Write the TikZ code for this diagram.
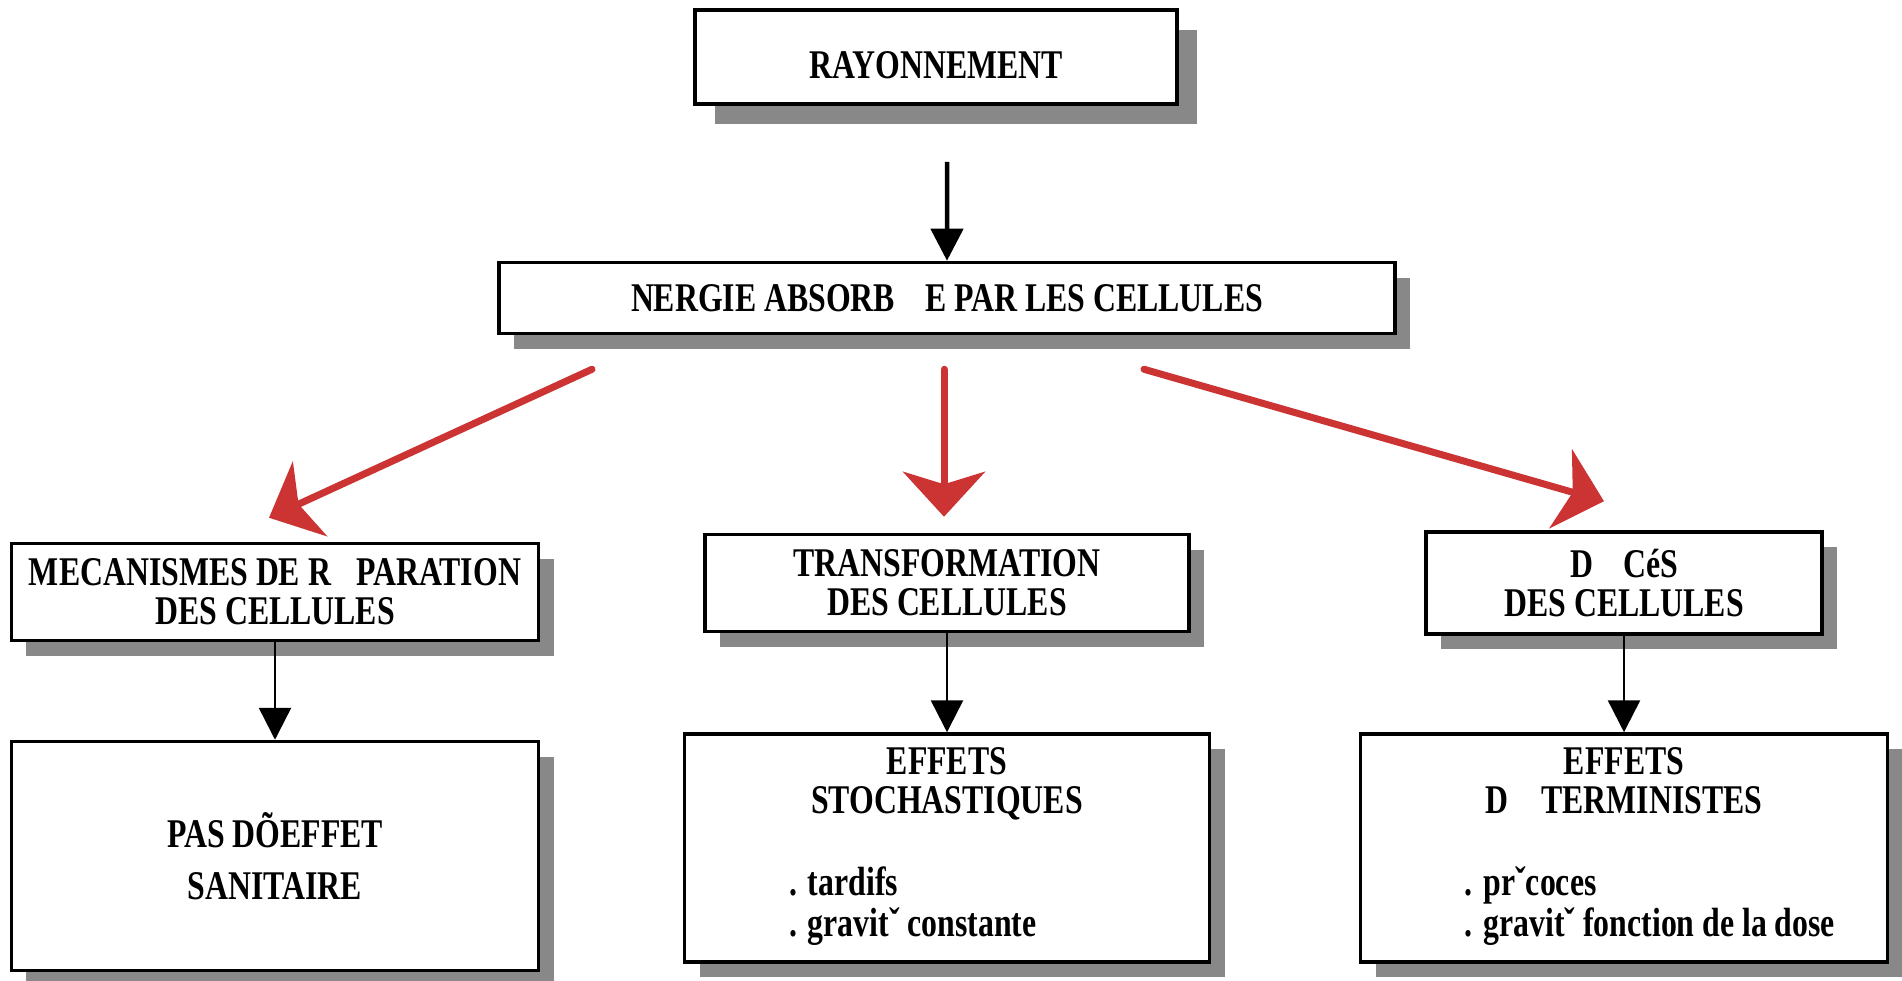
\documentclass[tikz,border=0pt]{standalone}
\usepackage{fontspec}
\setmainfont{Liberation Serif}[FakeStretch=0.78]
\usetikzlibrary{arrows.meta, shadows}

\definecolor{rougefleche}{RGB}{204,51,51}
\definecolor{grisombre}{RGB}{136,136,136}

\tikzset{
    boite/.style={draw, line width=1pt, fill=white, inner sep=0pt, align=center,
        font=\fontsize{11.6}{11.1}\selectfont\bfseries,
        drop shadow={shadow xshift=#1, shadow yshift=-#1, fill=grisombre, opacity=1}},
    boite/.default=0.15cm,
    flecherouge/.style={line width=0.07cm, line cap=round, draw=rougefleche,
        -{Stealth[length=0.45cm, width=0.82cm, inset=0.125cm, fill=rougefleche]}},
    flechenoire/.style={line width=0.025cm, -{Triangle[length=0.32cm, width=0.32cm]}}
}

\begin{document}
\begin{tikzpicture}
    \useasboundingbox (0,0) rectangle (19.02,9.80);

    \node[boite=0.2cm, minimum width=4.82cm, minimum height=0.94cm] (rayonnement) at (9.36, 9.23) {\raisebox{-0.21cm}[0pt][0pt]{RAYONNEMENT}};
    \node[boite, minimum width=8.96cm, minimum height=0.71cm] (energie) at (9.47, 6.82) {NERGIE ABSORB\hspace{0.3cm}E PAR LES CELLULES};

    \node[boite, minimum width=5.27cm, minimum height=0.97cm] (reparation) at (2.75, 3.88) {MECANISMES DE R\hspace{0.25cm}PARATION\\DES CELLULES};
    \node[boite, minimum width=4.84cm, minimum height=0.97cm] (transformation) at (9.47, 3.97) {TRANSFORMATION\\DES CELLULES};
    \node[boite, minimum width=3.96cm, minimum height=1.02cm] (deces) at (16.24, 3.97) {D\hspace{0.3cm}CéS\\DES CELLULES};

    \node[boite, minimum width=5.27cm, minimum height=2.29cm] (sanitaire) at (2.75, 1.24) {PAS DÕEFFET\\[0.13cm]SANITAIRE};
    \node[boite, minimum width=5.25cm, minimum height=2.28cm] (stochastiques) at (9.47, 1.32) {EFFETS\\STOCHASTIQUES\\[0.43cm]\begin{tabular}[t]{@{}l@{}}. tardifs\\. gravitˇ constante\end{tabular}\hspace*{0.68cm}};
    \node[boite, minimum width=5.27cm, minimum height=2.28cm] (deterministes) at (16.24, 1.32) {EFFETS\\D\hspace{0.33cm}TERMINISTES\\[0.43cm]\hspace*{0.52cm}\begin{tabular}[t]{@{}l@{}}. prˇcoces\\. gravitˇ fonction de la dose\end{tabular}};

    \coordinate (depart) at ([xshift=0.11cm, yshift=-0.56cm]rayonnement.south);
    \coordinate (depart gauche) at ([xshift=-3.55cm, yshift=-0.34cm]energie.south);
    \coordinate (depart milieu) at ([xshift=-0.03cm, yshift=-0.34cm]energie.south);
    \coordinate (depart droite) at ([xshift=1.97cm, yshift=-0.34cm]energie.south);

    \draw [flechenoire, line width=0.045cm] (depart) -- (energie);

    \draw [flecherouge] (depart gauche) -- ([xshift=-0.06cm, yshift=0.24cm]reparation.north);
    \draw [flecherouge] (depart milieu) -- ([xshift=-0.03cm, yshift=0.16cm]transformation.north);
    \draw [flecherouge] (depart droite) -- ([xshift=-0.2cm, yshift=0.29cm]deces.north);

    \draw [flechenoire] (reparation) -- (sanitaire);
    \draw [flechenoire] (transformation) -- (stochastiques);
    \draw [flechenoire] (deces) -- (deterministes);

\end{tikzpicture}
\end{document}
